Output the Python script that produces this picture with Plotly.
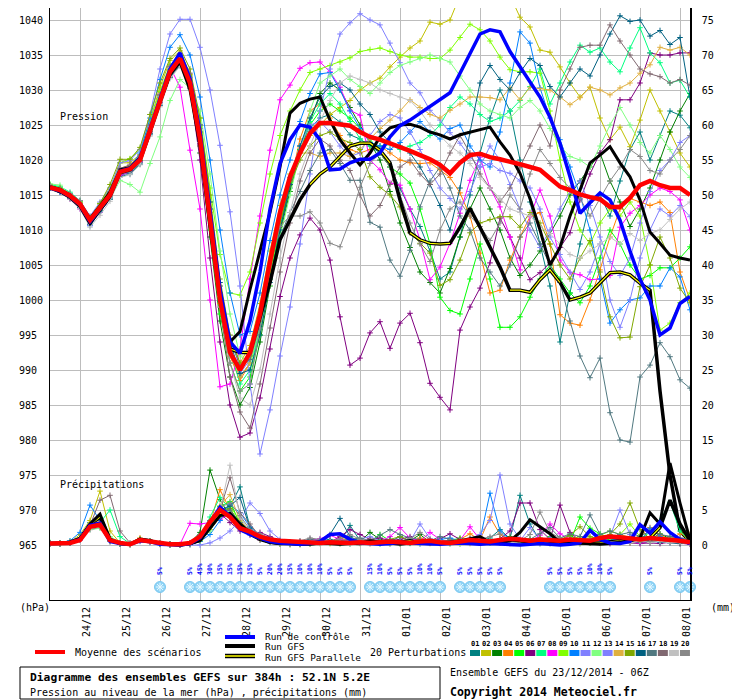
import plotly.graph_objects as go

# Diagramme des ensembles GEFS 384h - 52.1N 5.2E - run du 23/12/2014 06Z
# échéances toutes les 6h
hours = list(range(0, 385, 6))

day_ticks = [18, 42, 66, 90, 114, 138, 162, 186, 210, 234, 258, 282, 306, 330, 354, 378]
day_labels = ["24/12", "25/12", "26/12", "27/12", "28/12", "29/12", "30/12", "31/12",
              "01/01", "02/01", "03/01", "04/01", "05/01", "06/01", "07/01", "08/01"]
p_ticks = list(range(965, 1041, 5))
mm_ticks = list(range(0, 76, 5))

# ---- pression (hPa) ----
p_mean = [1016.1,1015.7,1014.9,1013.7,1011.4, 1013.1,1015.0,1018.3,1018.7,1020.0, 1024.3,1028.6,1032.6,1034.5,1031.0,
          1023,1012,1000,992.5,990, 992.5,998,1005.5,1012.5,1017.6,
          1021,1023.8,1025.3,1025.3,1025.1, 1024.9,1024,1023.3,1022.9,1022.4, 1021.9,1021.3,1020.7,1020.1,1019.3,
          1018.1,1019.6,1020.7,1020.9,1020.4, 1020.1,1019.8,1019.4,1019.0,1018.6, 1017.4,1016.2,1015.7,1015.1,1014.7,
          1014.4,1013.3,1013.3,1014.6,1016.4, 1017,1016.4,1016,1016,1015]
p_ctrl = [1016.0,1015.6,1014.8,1013.6,1011.2, 1013.0,1015.0,1018.4,1018.8,1020.2, 1024.6,1029.0,1033.0,1035.3,1031.6,
          1024,1012.5,1001.5,994,992.4, 997,1004,1013,1019.5,1022.9,
          1025,1024.7,1022.9,1018.6,1018.7, 1019.6,1020.1,1020.1,1021,1023.3, 1024.9,1025.7,1026.7,1027.7,1028.6,
          1029.6,1032.4,1035.2,1038,1038.6, 1038.3,1035.5,1033.3,1031.2,1029, 1026.1,1022.4,1017.6,1012.4,1013.9,
          1015.3,1014.3,1011.4,1007,1003, 1000,995,996,999.5,1000.5]
p_gfs = [1016.2,1015.8,1015.0,1013.8,1011.6, 1013.4,1015.4,1018.6,1018.9,1020.3, 1024.2,1028.2,1032.2,1034.0,1030.0,
         1022,1010.5,1000,994,995.5, 1001.5,1007,1012.5,1019,1026.7,
         1028.1,1028.7,1029,1025.7,1022.9, 1021,1019.3,1021,1023.3,1024.6, 1025,1025.1,1024.7,1024,1023.6,
         1023,1023.6,1024,1024.4,1024.7, 1022.6,1020.7,1018.1,1014.5,1010, 1005,1007.5,1012,1015.7,1019.6,
         1020.7,1021.9,1019.6,1017.6,1014.3, 1009.7,1008.1,1006.4,1006,1005.7]
p_para = [1016.0,1015.5,1014.7,1013.4,1011.0, 1012.8,1014.8,1018.2,1018.6,1020.0, 1024.0,1028.4,1032.4,1034.2,1030.6,
          1023,1011.5,1001,993,992.5, 992.5,997.5,1002.5,1008.6,1011.5,
          1014.3,1016.5,1018,1019,1020.5, 1022,1022.4,1022.4,1021.4,1019.6, 1014.3,1009.6,1008.6,1008.1,1008,
          1008.1,1010.4,1013.1,1010.4,1007.6, 1004.7,1001.4,1001.4,1001.1,1002.9, 1004.3,1002.5,1000,1000.4,1001,
          1002.4,1003.9,1004,1003.6,1002.4, 1001.4,987,975,967,965.5]

p01 = [1016.3,1015.8,1014.6,1013.2,1011.0, 1012.8,1014.6,1017.8,1018.2,1019.6, 1023.8,1028.3,1032.4,1034.1,1031.2,
       1024.5,1013,1001,993,989, 991,996,1003,1010,1016,
       1021,1024.5,1026,1026.5,1025.4, 1023.6,1023,1022,1021,1019, 1016,1013,1010.5,1007,1003,
       1004,1009,1015,1021,1026, 1030,1027,1020,1014,1008, 1002,994,1001,1008,1014,
       1015,1012,1017,1021.5,1024, 1020,1023.5,1027,1026.4,1024.6]
p02 = [1016.0,1015.6,1015.0,1014.0,1011.8, 1013.6,1015.8,1019.6,1019.6,1020.8, 1025.6,1030.4,1034.2,1035.6,1032.2,
       1025,1014,1002,994.5,991, 993.5,999.5,1007,1013.5,1018,
       1021.5,1023.5,1025,1026.5,1027.5, 1028.5,1030,1031,1031.7,1033.3, 1034.7,1036,1037,1039.7,1039.4,
       1040,1043.5,1043.5,1043.5,1043.5, 1043.5,1043.5,1040.4,1039,1035.7, 1035.4,1033.3,1031,1029,1030.4,
       1026,1022.9,1024.7,1021.9,1025.7, 1030,1027,1024,1021,1019]
p03 = [1016.2,1015.5,1014.5,1013.4,1011.2, 1012.9,1014.9,1018.0,1018.4,1019.9, 1024.1,1028.6,1032.8,1034.3,1030.4,
       1021,1009,997,989,985, 987.5,994,1002,1009.5,1015.5,
       1021,1025.5,1029.5,1031,1030, 1027.5,1025,1022.5,1020,1015.5, 1011,1007.5,1004,1002.5,1001,
       1004.5,1009,1013,1016,1013, 1010,1006,1003.5,1005,1007, 1009.5,1012,1015,1017,1019,
       1021,1017,1014,1010.5,1013, 1016,1020,1024,1027,1029.5]
p04 = [1016.0,1015.7,1015.1,1014.0,1011.6, 1013.4,1015.4,1018.8,1019.2,1020.5, 1024.8,1029.0,1032.9,1034.6,1031.4,
       1023.5,1012,999.5,992,988.5, 991,997,1004,1011,1016.5,
       1023,1027,1028,1026,1023.5, 1021.5,1021,1021.5,1022,1021, 1020,1019.6,1019.5,1019.6,1018.6,
       1017.5,1015.3,1012,1006.7,1001, 1001.4,1005.7,1009,1011.9,1012.5, 1008,997.9,996.7,996.4,1000,
       1004.3,1009,1013,1014.5,1014, 1013.5,1014,1012.5,1004,1000]
p05 = [1016.4,1016.0,1015.2,1014.0,1011.5, 1013.2,1015.2,1018.4,1018.6,1020.0, 1024.4,1028.9,1032.9,1034.4,1030.6,
       1022,1010,998,991,987, 989,995,1003,1010.5,1016.8,
       1021.5,1025,1027,1028,1027, 1026,1024.5,1023,1021,1019, 1018,1016.7,1013,1008,1000.4,
       998.5,998,1003,1008,1003, 996.1,996.1,997.6,1000.4,1003, 1005,1003,1001,999.6,1002,
       1006,1010,1008,1005,1003, 1003.5,1004.6,1004.6,1006,1007.6]
p06 = [1016.2,1015.7,1014.8,1013.6,1011.3, 1013.0,1014.8,1018.2,1018.5,1019.8, 1024.0,1028.2,1032.2,1034.0,1030.2,
       1020,1006,994,985,980.4, 981,986,993,1000.5,1006,
       1009.3,1011.7,1010,1005.7,997.6, 990.7,991.7,995.3,996.9,993.1, 996.7,998.1,993.9,988.1,986.1,
       984.3,995.7,999,1001.7,1005.3, 1011.7,1009,1006,1002.9,1003.9, 1005.3,1007.5,1009.6,1014.3,1018,
       1021,1022.9,1028.6,1028.6,1031, 1035.3,1035,1035,1035.3,1035.3]
p07 = [1016.5,1016.2,1015.4,1014.2,1011.7, 1013.4,1015.4,1018.6,1019.0,1020.2, 1024.4,1028.6,1032.3,1033.8,1031.2,
       1024,1013,1001,993,988, 990,996,1004,1011.5,1017.5,
       1022,1025.5,1028,1029.5,1028, 1025.5,1023,1022,1022,1022.2, 1021.5,1022,1022.5,1023.5,1025,
       1027.5,1029,1028,1026.5,1025.5, 1026,1027,1028.5,1030.5,1033, 1028,1031,1034,1036.4,1035.4,
       1036,1034,1032.6,1036,1038.9, 1035.3,1033.9,1031,1031.4,1029]
p08 = [1016.0,1015.5,1014.4,1013.0,1010.7, 1012.5,1014.4,1017.8,1018.3,1019.7, 1024.5,1029.4,1033.3,1030.4,1021.4,
       1013,1000,987.6,988,993, 1003,1012,1021.4,1028.6,1030.7,
       1033.1,1033.9,1034,1032.6,1030.4, 1027.1,1026.4,1020,1018.6,1016.7, 1016.4,1013,1008.6,1002.9,1004.7,
       1008.1,1012.4,1017.1,1020.4,1016, 1013.3,1009,1004.3,1011.9,1015.7, 1012,1005.7,1003.9,1003.6,1002.9,
       1003,1003.5,1010.4,1012.4,1013.5, 1015,1016,1015.5,1014.3,1010]
p09 = [1016.3,1015.9,1015.2,1014.2,1011.9, 1013.8,1016.0,1019.6,1020.2,1021.5, 1025.5,1029.8,1033.6,1034.6,1032.0,
       1026,1016,1006.5,1001,1000.7, 1004,1011,1018,1023.5,1027,
       1030,1032.5,1033,1033.5,1034, 1034.6,1035.5,1035.8,1036,1035.5, 1035,1034.7,1034.7,1034.5,1034.5,
       1035.7,1037.5,1039.4,1038.6,1037, 1034.7,1032.9,1032.6,1032.6,1032.4, 1027,1020,1014,1010,1008,
       1011,1013,1012,1014,1012, 1005,995.7,996.7,999.6,1001]
p10 = [1016.0,1015.4,1014.6,1013.3,1010.6, 1012.6,1014.4,1018.2,1019.0,1021.0, 1026.0,1031.5,1036.1,1037.9,1035.0,
       1029,1020,1010,1001,995, 995.5,1001,1008.5,1015,1020,
       1025.5,1029.5,1032.3,1032.5,1030, 1027,1024.5,1022.5,1022,1021.5, 1022.5,1024,1025.5,1024,1023,
       1024.5,1025,1022,1020,1019, 1024,1031,1038.3,1036.7,1030.3, 1026,1022.9,1019,1015,1010,
       1003,996.7,998.6,1000,1000.3, 1002,1002,1004.6,1003.3,998.6]
p11 = [1016.2,1015.8,1015.2,1014.2,1012.0, 1014.0,1016.0,1019.6,1019.9,1021.5, 1026.5,1033.0,1038.0,1040.1,1040.1,
       1036.1,1030,1022.1,1012.6,1002, 988,978,984.3,992,999,
       1008,1018,1027,1033,1038, 1039.6,1040.9,1040,1039.3,1036.7, 1033.9,1031,1029.6,1027.1,1025.7,
       1023.9,1022.4,1020.4,1019,1019.5, 1018.5,1018.1,1017,1016,1013, 1009,1006.5,1004,1001.5,1004,
       1008,1000,996.1,1000,1006, 1010,1013,1012,1013.5,1011.9]
p12 = [1016.6,1016.4,1015.0,1013.4,1011.6, 1013.2,1014.4,1017.1,1016.5,1015.4, 1019.5,1023.3,1028.5,1031.5,1030.3,
       1027,1018,1007,998,992, 991,996,1002,1009,1015,
       1021,1027,1031,1032,1033, 1031.5,1030.5,1029.5,1031,1032.5, 1033.5,1034,1034.5,1035,1034.5,
       1034,1032,1030,1028,1027, 1026.5,1026,1027.5,1028.5,1027, 1024.5,1022,1020.5,1020,1019,
       1022,1025,1027.5,1025,1022.5, 1021,1023.5,1021.5,1019,1017.5]
p13 = [1016.0,1015.4,1014.8,1013.8,1011.2, 1013.0,1015.2,1018.8,1019.0,1020.4, 1024.8,1029.0,1033.0,1034.8,1032.0,
       1024.5,1013,1001,992.5,989.5, 991.5,997.5,1005,1012,1017.5,
       1022,1025,1025.5,1024,1022, 1020.5,1021,1023.5,1025.5,1026.5, 1026,1024,1021.5,1018.5,1016,
       1014.5,1013,1015.5,1019,1022, 1020,1016.5,1013,1010,1007.5, 1010,1013,1015.5,1017,1013.5,
       1009,1005.5,1003.5,1006,1011, 1015.5,1018.5,1020,1022.5,1023.5]
p14 = [1016.1,1015.6,1014.9,1013.8,1011.4, 1013.2,1015.2,1018.6,1019.0,1020.3, 1024.6,1028.8,1032.8,1034.6,1031.6,
       1024,1012.5,1000.5,992.5,989, 991,997,1005,1012,1017,
       1021,1021,1020.5,1021,1021, 1020.5,1021.5,1023,1024.5,1025.7, 1027,1028.6,1027.5,1026.5,1026,
       1027.1,1028,1029,1029,1028.9, 1028.6,1030.3,1028.6,1030.4,1030.2, 1030,1029,1027.9,1028.9,1030.4,
       1030,1029.3,1030.3,1031,1032.4, 1033.6,1036.1,1035.7,1036.1,1035]
p15 = [1016.4,1016.0,1014.6,1013.5,1011.8, 1013.8,1016.5,1020.1,1020.1,1021.8, 1026.5,1031.0,1034.5,1036.0,1033.0,
       1026,1015,1003,995,991, 992,997,1004,1011,1016.5,
       1020,1022,1023.5,1024,1023, 1022.5,1021.5,1017.6,1016.1,1015, 1013.3,1009.6,1008.1,1006.7,1002.1,
       1002.9,1005.7,1009.6,1011,1011.5, 1011.9,1011.9,1010.4,1012.5,1011, 1008,1005,1003,1006,1008.5,
       1004,997.6,994.6,994.7,1001.9, 1005,1009,1006,1001.7,999.6]
p16 = [1016.0,1015.5,1014.6,1013.2,1010.8, 1012.6,1014.4,1017.6,1018.0,1019.4, 1023.6,1027.8,1031.8,1033.5,1030.8,
       1025,1014,1002.5,994,989.5, 990,995,1002.5,1010,1016.5,
       1022,1026,1029,1030.5,1031, 1030,1028,1026.5,1024,1022.5, 1022,1021,1019,1016.5,1013.5,
       1010,1016,1024,1031,1033.5, 1031.5,1030,1032.5,1034.5,1033.5, 1030.5,1029,1031,1033,1032,
       1035,1038,1040.6,1039.8,1040, 1037.7,1038.5,1036.5,1037.5,1029]
p17 = [1016.1,1015.6,1014.7,1013.5,1011.0, 1012.9,1014.8,1018.0,1018.3,1019.6, 1023.8,1028.0,1031.9,1033.6,1030.6,
       1023.5,1013,1002,994.5,990.5, 991.5,996.5,1003,1009,1012.5,
       1015.5,1018.5,1021,1021.5,1019.5, 1017.1,1017.1,1011.1,1010.4,1005.7, 1003.4,1007.1,1013.3,1017,1019,
       1016,1012,1010,1006,1004, 1002,1005,1009,1011,1008, 1005,1002.5,997,992,988.9,
       991.7,983.9,980,979.7,989, 990.7,993.9,991.9,988.6,987.4]
p18 = [1016.3,1015.9,1015.0,1013.8,1011.2, 1013.3,1015.4,1018.8,1019.3,1020.6, 1025.0,1029.3,1033.4,1035.2,1032.4,
       1024,1012,999,989,984, 981.7,988,996,1004,1011,
       1017,1021,1023,1022,1020, 1018.5,1015,1012,1013.5,1016.5, 1019,1020,1018,1016.5,1018,
       1021,1023.5,1021,1018,1016, 1014,1016,1019,1022,1025, 1022,1030,1033,1036.1,1036.4,
       1036.4,1039.3,1037,1035,1033, 1032.3,1031.9,1031,1031.5,1030.7]
p19 = [1016.2,1015.6,1014.4,1013.0,1010.4, 1012.1,1014.1,1017.5,1017.9,1019.3, 1023.4,1027.6,1031.6,1033.4,1030.0,
       1022.5,1011,999,991,986, 985,990,998,1006,1012.5,
       1018,1022,1025.5,1028.5,1031, 1032,1031.5,1031,1030,1029.5, 1029,1028.5,1027,1025,1023.5,
       1022,1021,1019.5,1017.5,1016, 1014.5,1013,1012.5,1012,1010.5, 1009.5,1008,1006.5,1006,1007,
       1008,1009,1008,1009.5,1008.5, 1009.5,1010,1011.5,1013,1014]
p20 = [1016.4,1015.8,1015.2,1014.2,1011.5, 1013.2,1015.0,1018.6,1019.1,1020.4, 1024.7,1029.3,1033.4,1035.1,1031.8,
       1025,1013,1000,991,987, 988,996,1005,1010.5,1012,
       1012,1012.6,1011,1008.1,1007.6, 1011.4,1016.1,1019.5,1021,1019, 1015,1011,1008,1005.5,1010,
       1013,1014,1012,1010.5,1008.5, 1011,1015,1013,1018,1021.5, 1019.5,1017.5,1016,1014.5,1012,
       1014.5,1017,1019,1021.5,1020.5, 1018.5,1018,1020,1021.5,1023.5]

# ---- précipitations (mm / 6h) ----
r_mean = [0.2,0.3,0.3,0.7,2.6, 2.9,0.7,0.3,0.1,0.7, 0.5,0.2,0.1,0.1,0.3, 1.2,3.3,5.0,4.0,2.4, 1.9,1.2,0.8,0.6,0.5,
          0.4,0.3,0.3,0.4,0.3, 0.3,0.4,0.3,0.4,0.5, 0.4,0.3,0.5,0.6,0.4, 0.3,0.5,0.7,0.6,0.5, 0.7,0.9,0.8,0.6,0.8,
          0.7,0.6,0.8,0.7,0.6, 1.0,1.2,1.1,0.9,0.8, 1.0,0.9,0.8,0.6,0.4]
r_ctrl = [0.2,0.2,0.3,0.8,2.8, 3.1,0.5,0.2,0.1,0.6, 0.5,0.1,0.0,0.0,0.2, 1.0,3.2,5.4,4.1,2.2, 1.5,1.0,0.5,0.3,0.2,
          0.1,0.2,0.5,1.5,1.6, 0.8,0.3,0.2,0.1,0.2, 0.4,0.3,0.2,0.1,0.1, 0.2,0.3,0.2,0.1,0.2, 0.1,0.1,0.0,0.1,0.2,
          0.1,0.0,0.1,0.3,2.1, 0.8,0.3,0.2,0.5,2.9, 1.7,3.3,1.8,0.8,0.2]
r_gfs = [0.2,0.2,0.4,0.9,3.0, 4.4,0.8,0.2,0.1,0.8, 0.6,0.2,0.1,0.0,0.2, 0.6,2.4,4.2,4.5,3.0, 1.8,0.9,0.4,0.2,0.2,
         0.1,0.1,0.3,0.2,0.1, 0.2,0.3,0.6,0.4,0.2, 0.1,0.3,0.5,0.4,0.2, 0.3,0.6,0.8,1.2,0.4, 0.3,0.6,1.8,3.6,2.6,
         1.6,0.4,0.2,0.3,0.2, 0.1,0.2,0.4,0.6,1.0, 4.6,3.0,11.7,6.0,0.7]
r_para = [0.2,0.2,0.4,0.9,2.9, 4.0,0.8,0.2,0.1,0.8, 0.6,0.2,0.1,0.0,0.2, 0.7,2.6,4.5,4.2,2.8, 1.6,0.8,0.4,0.2,0.2,
          0.1,0.2,0.3,0.3,0.2, 0.3,0.2,0.4,0.3,0.2, 0.4,0.6,0.3,0.2,0.3, 0.4,0.5,0.3,0.2,0.4, 0.5,0.8,0.6,0.4,0.3,
          0.5,0.6,0.4,0.3,0.2, 0.3,0.4,0.6,0.8,0.9, 1.0,2.5,6.4,3.0,0.6]

r01 = [0.3,0.2,0.5,1.0,3.2, 3.0,0.8,0.2,0.1,0.8, 0.5,0.2,0.1,0.0,0.2, 0.8,2.5,4.8,5.5,8.3, 2.5,1.0,0.5,0.3,0.2,
       0.1,0.3,0.6,0.8,0.4, 2.8,0.6,0.3,0.2,0.5, 1.2,0.6,0.2,0.3,0.8, 0.4,0.2,0.3,0.5,1.0, 2.2,0.9,7.1,3.0,0.6,
       0.2,0.3,0.4,0.8,0.5, 0.3,0.6,0.9,0.5,0.3, 0.4,0.7,1.2,0.6,0.3]
r02 = [0.2,0.3,0.4,1.5,3.5, 7.7,2.0,0.3,0.1,0.9, 0.6,0.2,0.1,0.0,0.1, 0.5,2.2,4.0,4.6,3.5, 2.0,0.8,0.4,0.2,0.1,
       0.2,0.4,0.3,0.2,0.6, 0.4,0.3,0.8,0.5,0.3, 0.2,0.4,0.6,0.3,0.2, 0.4,0.8,0.5,0.3,0.4, 0.6,0.3,0.2,0.5,0.9,
       0.6,0.4,0.3,0.7,1.0, 0.5,0.8,1.5,1.0,0.6, 0.5,0.8,0.6,0.4,0.3]
r03 = [0.2,0.2,0.3,0.8,2.4, 2.6,0.5,0.2,0.1,0.6, 0.4,0.1,0.0,0.0,0.3, 1.8,10.7,6.5,4.0,2.5, 1.8,1.0,0.5,0.2,0.1,
       0.1,0.2,0.4,0.6,0.3, 0.2,0.5,1.8,0.8,0.3, 0.2,0.6,1.5,0.4,0.3, 0.2,0.5,0.9,0.4,0.3, 0.6,1.2,0.5,0.3,0.4,
       0.7,0.5,1.4,0.6,0.3, 0.4,0.9,0.6,0.3,0.5, 0.8,1.6,0.9,0.4,0.2]
r04 = [0.3,0.2,0.4,0.9,2.9, 3.3,0.6,0.2,0.1,1.0, 0.5,0.2,0.0,0.0,0.2, 1.0,3.0,7.9,5.0,2.8, 1.5,0.7,0.4,0.2,0.2,
       0.1,0.2,0.3,0.5,1.0, 0.6,0.3,0.2,0.4,0.6, 0.3,0.5,1.0,0.6,0.3, 0.4,0.8,1.6,0.7,4.0, 1.5,0.6,0.3,0.5,0.8,
       0.4,0.9,0.5,0.3,0.6, 1.0,0.6,0.4,0.8,1.3, 2.5,1.4,0.8,1.6,1.5]
r05 = [0.2,0.3,0.4,0.8,2.6, 2.8,0.6,0.2,0.1,0.7, 0.5,0.2,0.1,0.0,0.1, 0.6,2.8,5.5,6.2,3.0, 1.6,0.9,0.5,0.3,0.2,
       0.3,0.5,0.4,0.3,0.8, 0.5,0.3,0.4,1.5,0.6, 0.3,0.4,0.7,0.5,0.3, 0.6,1.0,0.5,0.4,0.8, 0.5,0.3,0.6,0.9,0.5,
       1.2,0.7,0.4,4.0,2.4, 1.6,0.8,0.5,1.1,0.7, 0.4,0.6,0.9,0.5,0.3]
r06 = [0.2,0.2,0.3,0.7,2.2, 2.5,0.5,0.2,0.1,0.6, 0.4,0.2,0.0,0.0,0.2, 1.4,3.5,4.5,3.2,2.0, 1.5,1.8,1.2,0.6,0.4,
       0.5,0.8,0.6,0.4,1.2, 2.2,1.5,0.8,1.0,0.6, 0.8,1.2,0.5,0.4,0.9, 1.6,0.8,0.5,0.3,0.6, 0.9,2.0,6.0,6.0,2.2,
       0.8,5.7,1.8,0.6,0.4, 0.3,0.2,0.4,0.3,0.2, 0.3,0.2,0.4,0.2,0.1]
r07 = [0.3,0.2,0.4,1.0,2.6, 3.2,5.0,1.2,0.2,0.8, 0.5,0.2,0.0,0.0,0.3, 1.2,4.0,6.8,5.2,3.0, 1.8,1.0,0.4,0.2,0.1,
       0.2,0.3,0.5,0.4,0.3, 0.6,0.4,0.3,0.2,0.5, 0.4,0.3,0.6,0.4,0.3, 0.5,0.3,0.4,0.6,0.5, 0.3,0.7,0.5,0.4,0.6,
       0.5,0.8,0.4,0.3,0.5, 0.6,0.4,0.7,0.5,0.9, 1.8,3.5,6.1,2.0,0.6]
r08 = [0.2,0.2,0.3,0.8,2.8, 3.0,0.7,0.3,0.1,0.7, 0.5,0.2,0.1,0.1,3.1, 3.0,3.2,3.6,4.6,2.4, 1.5,0.8,0.4,0.3,0.2,
       0.3,0.6,0.9,1.4,0.8, 0.5,0.4,0.7,0.5,1.2, 2.5,1.0,0.5,1.8,0.8, 0.4,0.7,2.6,0.8,0.5, 0.3,0.6,0.8,0.5,1.4,
       3.0,1.6,0.8,0.5,0.4, 0.6,1.0,0.5,0.4,0.3, 0.5,0.7,0.4,0.3,0.2]
r09 = [0.2,0.3,0.4,0.9,2.5, 2.8,0.6,0.2,0.1,0.8, 0.5,0.1,0.0,0.0,0.2, 0.7,2.6,4.2,5.6,3.4, 2.0,1.1,0.6,0.3,0.2,
       0.1,0.2,0.3,0.4,0.2, 0.3,0.5,0.4,0.3,0.2, 0.3,0.4,0.5,0.6,0.4, 0.3,0.2,0.4,0.5,0.6, 0.4,0.3,0.5,0.4,0.7,
       0.6,0.5,0.8,1.2,0.7, 1.3,2.0,1.5,3.0,1.2, 1.0,0.6,0.8,0.5,0.3]
r10 = [0.3,0.3,0.6,1.8,5.7, 3.5,0.7,0.2,0.1,0.6, 0.4,0.2,0.1,0.0,0.1, 0.5,1.5,3.5,5.8,4.6, 2.6,1.4,0.7,0.3,0.2,
       0.1,0.2,0.3,0.6,0.4, 0.2,0.3,0.5,0.3,0.2, 0.4,0.3,0.2,0.6,0.8, 1.0,0.6,0.4,0.8,7.4, 2.0,0.8,0.4,0.3,0.2,
       0.4,0.6,0.3,0.2,0.5, 0.9,0.6,1.1,0.5,0.4, 2.4,1.2,0.7,0.5,0.3]
r11 = [0.2,0.2,0.3,0.7,2.3, 2.7,0.6,0.2,0.1,0.5, 0.3,0.1,0.0,0.0,0.0, 0.0,0.3,1.0,2.0,3.5, 6.0,4.5,2.0,0.8,0.4,
       0.3,0.5,0.8,0.4,0.3, 0.5,0.3,0.2,0.3,0.5, 0.4,0.3,0.6,0.8,0.5, 0.4,0.6,0.9,1.5,3.5, 10.0,3.0,0.8,0.4,0.6,
       1.0,0.5,0.4,0.3,0.6, 0.8,1.2,5.0,1.5,0.6, 0.5,0.4,0.3,0.4,0.3]
r12 = [0.4,0.3,0.5,0.9,2.2, 2.4,1.2,0.4,0.1,0.7, 0.5,0.2,0.0,0.0,0.2, 0.6,2.0,4.4,4.8,3.0, 1.7,0.8,0.3,0.2,0.1,
       0.2,0.3,0.2,0.4,0.3, 0.2,0.4,0.3,0.2,0.4, 0.3,0.2,0.4,0.5,0.3, 0.2,0.3,0.5,0.4,0.3, 0.5,0.4,0.3,0.6,0.4,
       0.3,0.5,0.7,0.4,0.6, 0.8,0.5,0.4,0.9,0.6, 0.4,0.7,1.0,0.6,0.4]
r13 = [0.2,0.2,0.4,0.8,2.7, 3.0,0.7,0.2,0.1,0.7, 0.5,0.2,0.1,0.0,0.2, 0.9,3.0,5.0,4.4,2.6, 1.4,0.7,0.3,0.2,0.1,
       0.3,0.6,0.4,0.3,0.2, 0.5,0.8,1.2,0.6,0.4, 0.3,0.5,3.0,0.9,0.4, 0.5,0.4,0.3,0.6,0.8, 0.5,0.4,0.6,2.5,0.8,
       0.5,0.9,0.6,0.4,0.5, 0.3,0.6,0.8,1.2,0.6, 1.0,0.7,0.4,0.3,0.2]
r14 = [0.3,0.2,0.4,0.9,2.6, 2.9,0.6,0.2,0.1,0.9, 0.6,0.2,0.1,0.0,0.1, 1.0,3.2,5.6,7.2,3.5, 1.8,0.9,0.4,0.2,0.1,
       0.1,0.2,0.4,0.3,0.2, 0.3,0.2,0.4,0.3,0.2, 0.3,0.4,0.3,0.2,0.3, 0.4,0.3,0.2,0.3,0.4, 0.3,0.2,0.4,0.3,0.2,
       0.3,0.4,0.3,0.2,0.4, 0.3,0.5,0.4,0.3,0.6, 0.8,0.5,0.4,0.3,0.2]
r15 = [0.2,0.2,0.3,0.8,2.5, 2.7,0.6,0.2,0.1,0.8, 0.5,0.2,0.1,0.0,0.2, 0.7,2.7,4.6,5.2,3.0, 1.6,0.8,0.4,0.2,0.1,
       0.2,0.3,0.5,0.4,0.3, 0.5,0.4,0.6,0.4,0.8, 1.2,0.6,0.4,0.7,0.5, 0.6,0.8,0.5,0.4,0.6, 0.8,0.5,0.4,0.7,1.0,
       0.6,0.8,1.4,2.6,1.2, 0.8,1.5,3.0,6.0,2.2, 0.9,0.6,0.8,0.5,0.4]
r16 = [0.3,0.2,0.4,0.9,2.8, 3.1,0.7,0.2,0.1,0.7, 0.5,0.2,0.0,0.0,0.2, 0.9,3.0,5.0,5.6,6.8, 2.4,1.0,0.5,0.3,0.2,
       0.2,0.4,0.6,1.5,3.8, 1.2,0.5,0.4,0.6,0.8, 0.5,0.3,0.4,0.6,0.4, 0.3,0.5,0.4,0.6,0.5, 0.4,0.3,0.5,0.4,0.3,
       0.6,0.4,0.3,0.5,0.4, 0.3,0.4,0.6,0.5,0.8, 0.6,0.4,0.3,0.2,0.3]
r17 = [0.2,0.2,0.3,0.8,2.5, 2.8,0.6,0.2,0.1,0.7, 0.5,0.2,0.1,0.0,0.2, 0.8,2.8,4.6,5.0,3.2, 1.8,1.2,0.6,0.4,0.3,
       0.5,0.8,0.6,0.4,0.6, 0.8,1.0,0.6,1.4,2.2, 1.5,1.0,0.8,0.6,1.2, 0.8,0.5,0.4,0.6,0.5, 0.4,0.6,0.5,0.8,1.6,
       2.5,1.0,1.6,1.2,4.3, 1.5,2.0,1.5,1.8,1.2, 2.0,1.5,1.2,1.0,0.8]
r18 = [0.2,0.3,0.4,1.0,2.8, 6.4,7.1,2.0,0.3,0.7, 0.5,0.2,0.1,0.0,0.2, 0.9,2.9,5.0,9.6,4.6, 3.0,1.2,0.6,0.3,0.2,
       0.2,0.4,0.3,0.5,0.4, 0.3,0.5,0.8,0.6,0.4, 0.3,0.6,0.4,0.5,0.3, 0.4,0.6,0.9,0.5,0.4, 0.3,0.5,0.4,0.6,0.3,
       0.5,0.4,0.3,0.6,0.5, 0.4,0.5,0.8,0.6,0.4, 0.5,0.6,0.4,0.3,0.2]
r19 = [0.2,0.2,0.4,0.8,2.4, 2.6,0.6,0.2,0.1,0.6, 0.4,0.2,0.0,0.0,0.2, 0.8,2.6,5.0,11.4,4.0, 1.8,0.8,0.4,0.2,0.1,
       0.2,0.3,0.2,0.4,0.3, 0.2,0.3,0.4,0.3,0.2, 0.3,0.4,0.3,0.5,0.4, 0.3,0.2,0.4,0.3,0.5, 0.4,0.3,0.5,0.4,0.3,
       0.2,0.4,0.3,0.5,0.4, 0.3,0.4,0.5,0.3,0.6, 0.4,0.5,0.3,0.4,0.2]
r20 = [0.3,0.2,0.4,1.0,2.9, 3.2,0.7,0.3,0.1,0.8, 0.5,0.2,0.1,0.0,0.2, 1.1,3.3,5.4,6.0,4.2, 2.2,1.6,1.0,0.6,0.4,
       0.6,1.0,0.8,0.6,0.9, 1.5,0.8,0.6,0.5,0.7, 0.6,0.9,1.8,0.8,0.5, 0.7,0.5,0.6,0.8,1.2, 1.6,0.8,0.6,1.5,4.7,
       1.8,1.0,0.7,0.5,0.6, 0.4,0.6,0.5,0.8,0.6, 0.5,0.7,0.6,0.4,0.3]

members_p = [p01, p02, p03, p04, p05, p06, p07, p08, p09, p10, p11, p12, p13, p14, p15, p16, p17, p18, p19, p20]
members_r = [r01, r02, r03, r04, r05, r06, r07, r08, r09, r10, r11, r12, r13, r14, r15, r16, r17, r18, r19, r20]
member_cols = ["#008080", "#c0c000", "#008000", "#ff8000", "#00ff00", "#800080", "#00ff80", "#ff00ff",
               "#80ff00", "#0080ff", "#8080ff", "#80ff80", "#8080ff", "#e0b040", "#80a800", "#006080",
               "#507880", "#806870", "#c0c0c0", "#888888"]

# risque de neige (%)
snow_hours = [66, 84, 90, 96, 102, 108, 114, 120, 126, 132, 138, 144, 150, 156, 162, 168, 174, 180,
              192, 198, 204, 210, 216, 222, 228, 234, 246, 252, 258, 264, 270,
              300, 306, 312, 318, 324, 330, 336, 360, 378, 384]
snow_pct = [5, 5, 45, 30, 15, 15, 15, 15, 5, 20, 20, 15, 10, 10, 10, 5, 5, 5,
            15, 10, 5, 5, 5, 10, 10, 5, 5, 5, 5, 5, 5,
            5, 5, 5, 5, 10, 10, 5, 5, 5, 5]

for s in members_p + members_r + [p_mean, p_ctrl, p_gfs, p_para, r_mean, r_ctrl, r_gfs, r_para]:
    assert len(s) == len(hours), len(s)

MONO = "DejaVu Sans Mono"

# la page a une marge de 8px : zone de tracé à x 50..690, y 8..600 (pixels de la page)
TOP, BOT = 8, 600
def fx(px):
    return (px - 50) / 640.0

def fy(py):
    return (BOT - py) / float(BOT - TOP)

# 965 hPa / 0 mm à y=545, 7 px par hPa (ou mm)
p_lo, p_hi = 965 - (BOT - 545) / 7.0, 965 + (545 - TOP) / 7.0


def flat_runs(vals, lim=2.2):
    # le liseré jaune du run parallèle n'apparaît que sur les segments peu pentus
    xs, ys = [hours[0]], [vals[0]]
    for i in range(1, len(vals)):
        if abs(vals[i] - vals[i - 1]) > lim:
            xs.append(None)
            ys.append(None)
        xs.append(hours[i])
        ys.append(vals[i])
    return xs, ys


fig = go.Figure()

# perturbations
for col, pr in zip(member_cols, members_r):
    fig.add_trace(go.Scatter(x=hours, y=pr, yaxis="y2", mode="lines+markers",
                             line=dict(color=col, width=1),
                             marker=dict(symbol="cross-thin", size=4, line=dict(color=col, width=1)),
                             hoverinfo="skip"))
for col, p in zip(member_cols, members_p):
    fig.add_trace(go.Scatter(x=hours, y=p, mode="lines+markers",
                             line=dict(color=col, width=1),
                             marker=dict(symbol="cross-thin", size=4, line=dict(color=col, width=1)),
                             hoverinfo="skip"))

# runs déterministes + moyenne
for ax, para, gfs, ctrl, mean in [("y", p_para, p_gfs, p_ctrl, p_mean), ("y2", r_para, r_gfs, r_ctrl, r_mean)]:
    fig.add_trace(go.Scatter(x=hours, y=para, yaxis=ax, mode="lines", line=dict(color="black", width=3.5), hoverinfo="skip"))
    yx, yy = flat_runs(para)
    fig.add_trace(go.Scatter(x=yx, y=yy, yaxis=ax, mode="lines", connectgaps=False,
                             line=dict(color="#ffff00", width=1.2), hoverinfo="skip"))
    fig.add_trace(go.Scatter(x=hours, y=gfs, yaxis=ax, mode="lines", line=dict(color="black", width=3), hoverinfo="skip"))
    fig.add_trace(go.Scatter(x=hours, y=ctrl, yaxis=ax, mode="lines", line=dict(color="#0000ff", width=3.5), hoverinfo="skip"))
    fig.add_trace(go.Scatter(x=hours, y=mean, yaxis=ax, mode="lines", line=dict(color="#ff0000", width=4.5), hoverinfo="skip"))

# icônes neige
snow_y = 965 + (545 - 587) / 7.0
fig.add_trace(go.Scatter(x=snow_hours, y=[snow_y] * len(snow_hours), mode="markers", cliponaxis=False,
                         marker=dict(symbol="circle", size=11, color="#8fd4f6", line=dict(color="#7cc8f0", width=1)),
                         hoverinfo="skip"))
fig.add_trace(go.Scatter(x=snow_hours, y=[snow_y] * len(snow_hours), mode="markers", cliponaxis=False,
                         marker=dict(symbol="asterisk-open", size=7, color="#e8f8ff", line=dict(color="#e8f8ff", width=1)),
                         hoverinfo="skip"))
for h, pc in zip(snow_hours, snow_pct):
    fig.add_annotation(x=h, y=965 + (545 - 577) / 7.0, text="<b>%d%%</b>" % pc, textangle=-90, showarrow=False,
                       yanchor="bottom", font=dict(family=MONO, size=6.5, color="#0000ff"))

fig.update_layout(
    width=732, height=692,
    margin=dict(l=42, r=50, t=0, b=100),
    plot_bgcolor="white", paper_bgcolor="white",
    showlegend=False,
    font=dict(family=MONO, size=10, color="black"),
    xaxis=dict(range=[0, 384], tickvals=day_ticks, ticktext=day_labels, tickangle=-90,
               showgrid=True, gridcolor="#bdbdbd", gridwidth=1, zeroline=False,
               showline=True, linecolor="black", linewidth=1, ticks="",
               ticklabelshift=7, ticklabelstandoff=2, tickfont=dict(family=MONO, size=10)),
    yaxis=dict(range=[p_lo, p_hi], tickvals=p_ticks,
               ticktext=[str(v) if v >= 1000 else str(v) + "\u00a0" for v in p_ticks],
               showgrid=True, gridcolor="#bdbdbd", gridwidth=1, zeroline=False,
               showline=True, linecolor="black", linewidth=1, ticks="", ticklabelstandoff=4,
               tickfont=dict(family=MONO, size=10)),
    yaxis2=dict(range=[p_lo - 965, p_hi - 965], tickvals=mm_ticks, overlaying="y", side="right",
                showgrid=False, zeroline=False, showline=True, linecolor="black", linewidth=1.5,
                ticks="", ticklabelstandoff=8, tickfont=dict(family=MONO, size=10)),
)

# légende et cartouche
def label(x, y, text, size=10, anchor="left"):
    fig.add_annotation(xref="paper", yref="paper", x=fx(x), y=fy(y), text=text, showarrow=False,
                       xanchor=anchor, yanchor="middle", borderpad=0,
                       font=dict(family=MONO, size=size, color="black"))

def seg(x0, x1, y, color, width):
    fig.add_shape(type="line", xref="paper", yref="paper", x0=fx(x0), x1=fx(x1), y0=fy(y), y1=fy(y),
                  line=dict(color=color, width=width))

label(59, 117, "Pression")
label(59, 484, "Précipitations")
label(19, 607, "(hPa)")
label(710, 607, "(mm)")

seg(35, 65, 652, "#ff0000", 4)
label(74, 652, "Moyenne des scénarios")
seg(225, 255, 637, "#0000ff", 4)
label(264, 636.5, "Run de contrôle", size=9.4)
seg(225, 255, 646, "black", 4)
label(264, 646.5, "Run GFS", size=9.4)
seg(225, 255, 656, "black", 4.5)
seg(225, 255, 656, "#ffff00", 1.5)
label(264, 657, "Run GFS Parallele", size=9.4)

label(369, 652, "20 Perturbations")
for i, col in enumerate(member_cols):
    x0 = 470 + 11.05 * i
    fig.add_shape(type="rect", xref="paper", yref="paper", x0=fx(x0), x1=fx(x0 + 10), y0=fy(656), y1=fy(650),
                  fillcolor=col, line=dict(width=0))
    label(x0 + 5, 644, "<b>%02d</b>" % (i + 1), size=7, anchor="center")

fig.add_shape(type="rect", xref="paper", yref="paper", x0=fx(20), x1=fx(440), y0=fy(667), y1=fy(699),
              line=dict(color="black", width=1))
label(29, 677, "<b>Diagramme des ensembles GEFS sur 384h : 52.1N 5.2E</b>", size=11.3)
label(29, 692, "Pression au niveau de la mer (hPa) , précipitations (mm)")
label(449, 672, "Ensemble GEFS du 23/12/2014 - 06Z")
label(449, 692, "<b>Copyright 2014 Meteociel.fr</b>", size=11.5)

fig.write_html("out.html")
